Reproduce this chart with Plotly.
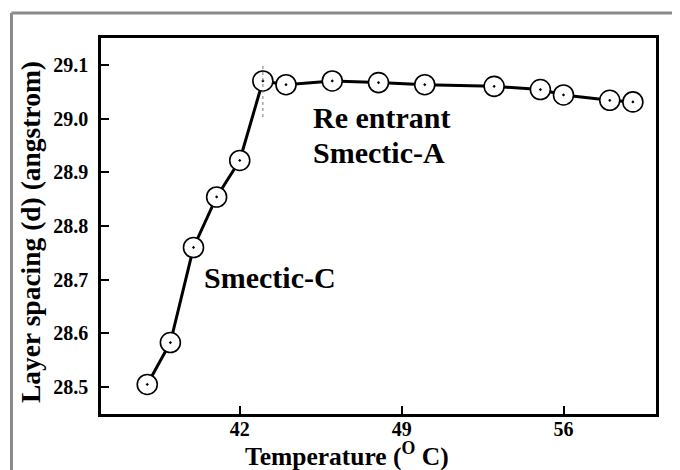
import plotly.graph_objects as go

# Data
temperature = [38, 39, 40, 41, 42, 43, 44, 46, 48, 50, 53, 55, 56, 58, 59]
layer_spacing = [28.505, 28.583, 28.760, 28.854, 28.922, 29.070, 29.063, 29.070,
                 29.067, 29.063, 29.060, 29.054, 29.044, 29.034, 29.031]
x_ticks = [42, 49, 56]
y_ticks = [28.5, 28.6, 28.7, 28.8, 28.9, 29.0, 29.1]
transition_temp = 43
transition_span = [29.003, 29.103]

FONT = "Liberation Serif, Times New Roman, serif"

fig = go.Figure()
fig.add_trace(go.Scatter(
    x=temperature, y=layer_spacing, mode="lines+markers",
    line=dict(color="black", width=3),
    marker=dict(symbol="circle-dot", size=20, color="white",
                line=dict(color="black", width=1.6)),
    showlegend=False, hoverinfo="x+y",
))

fig.add_shape(type="line", xref="x", yref="y",
              x0=transition_temp, x1=transition_temp,
              y0=transition_span[0], y1=transition_span[1],
              line=dict(color="#777777", width=1, dash="dot"), layer="above")

# outer grey border (left and top edges of the figure frame)
fig.add_shape(type="line", xref="paper", yref="paper",
              x0=-0.1613, x1=-0.1613, y0=-0.3, y1=1.0665,
              line=dict(color="#8a8a8a", width=3))
fig.add_shape(type="line", xref="paper", yref="paper",
              x0=-0.1613, x1=1.2, y0=1.0665, y1=1.0665,
              line=dict(color="#8a8a8a", width=3))

ann_font = dict(family=FONT, size=30, color="black", weight="bold")
fig.add_annotation(x=40.36, y=28.704, xref="x", yref="y", text="Smectic-C",
                   showarrow=False, xanchor="left", yanchor="middle", font=ann_font)
fig.add_annotation(x=45.07, y=29.0015, xref="x", yref="y", text="Re entrant",
                   showarrow=False, xanchor="left", yanchor="middle", font=ann_font)
fig.add_annotation(x=45.07, y=28.937, xref="x", yref="y", text="Smectic-A",
                   showarrow=False, xanchor="left", yanchor="middle", font=ann_font)

# axis titles
fig.add_annotation(x=-0.128, y=0.484, xref="paper", yref="paper",
                   text="Layer spacing (d) (angstrom)", textangle=-90,
                   showarrow=False, xanchor="center", yanchor="middle",
                   font=dict(family=FONT, size=27.5, color="black", weight="bold"))
fig.add_annotation(x=0.443, y=-0.108, xref="paper", yref="paper",
                   text="Temperature (<sup>O</sup> C)",
                   showarrow=False, xanchor="center", yanchor="middle",
                   borderpad=0,
                   font=dict(family=FONT, size=25.5, color="black", weight="bold"))

axis_common = dict(showline=True, linecolor="black", linewidth=2.5, mirror=True,
                   ticks="inside", ticklen=8, tickwidth=2, tickcolor="black",
                   showgrid=False, zeroline=False,
                   tickfont=dict(family=FONT, size=20, color="black", weight="bold"))

fig.update_xaxes(range=[36, 60], tickvals=x_ticks, ticklabelstandoff=-5, **axis_common)
fig.update_yaxes(range=[28.45, 29.15], tickvals=y_ticks, tickformat=".1f",
                 ticklabelstandoff=6, **axis_common)

# the page body adds an 8px margin, so the figure is sized to fit the window
fig.update_layout(
    width=672, height=462,
    margin=dict(l=93, r=24, t=30, b=56),
    paper_bgcolor="white", plot_bgcolor="white",
    showlegend=False,
)

fig.write_html("out.html")
